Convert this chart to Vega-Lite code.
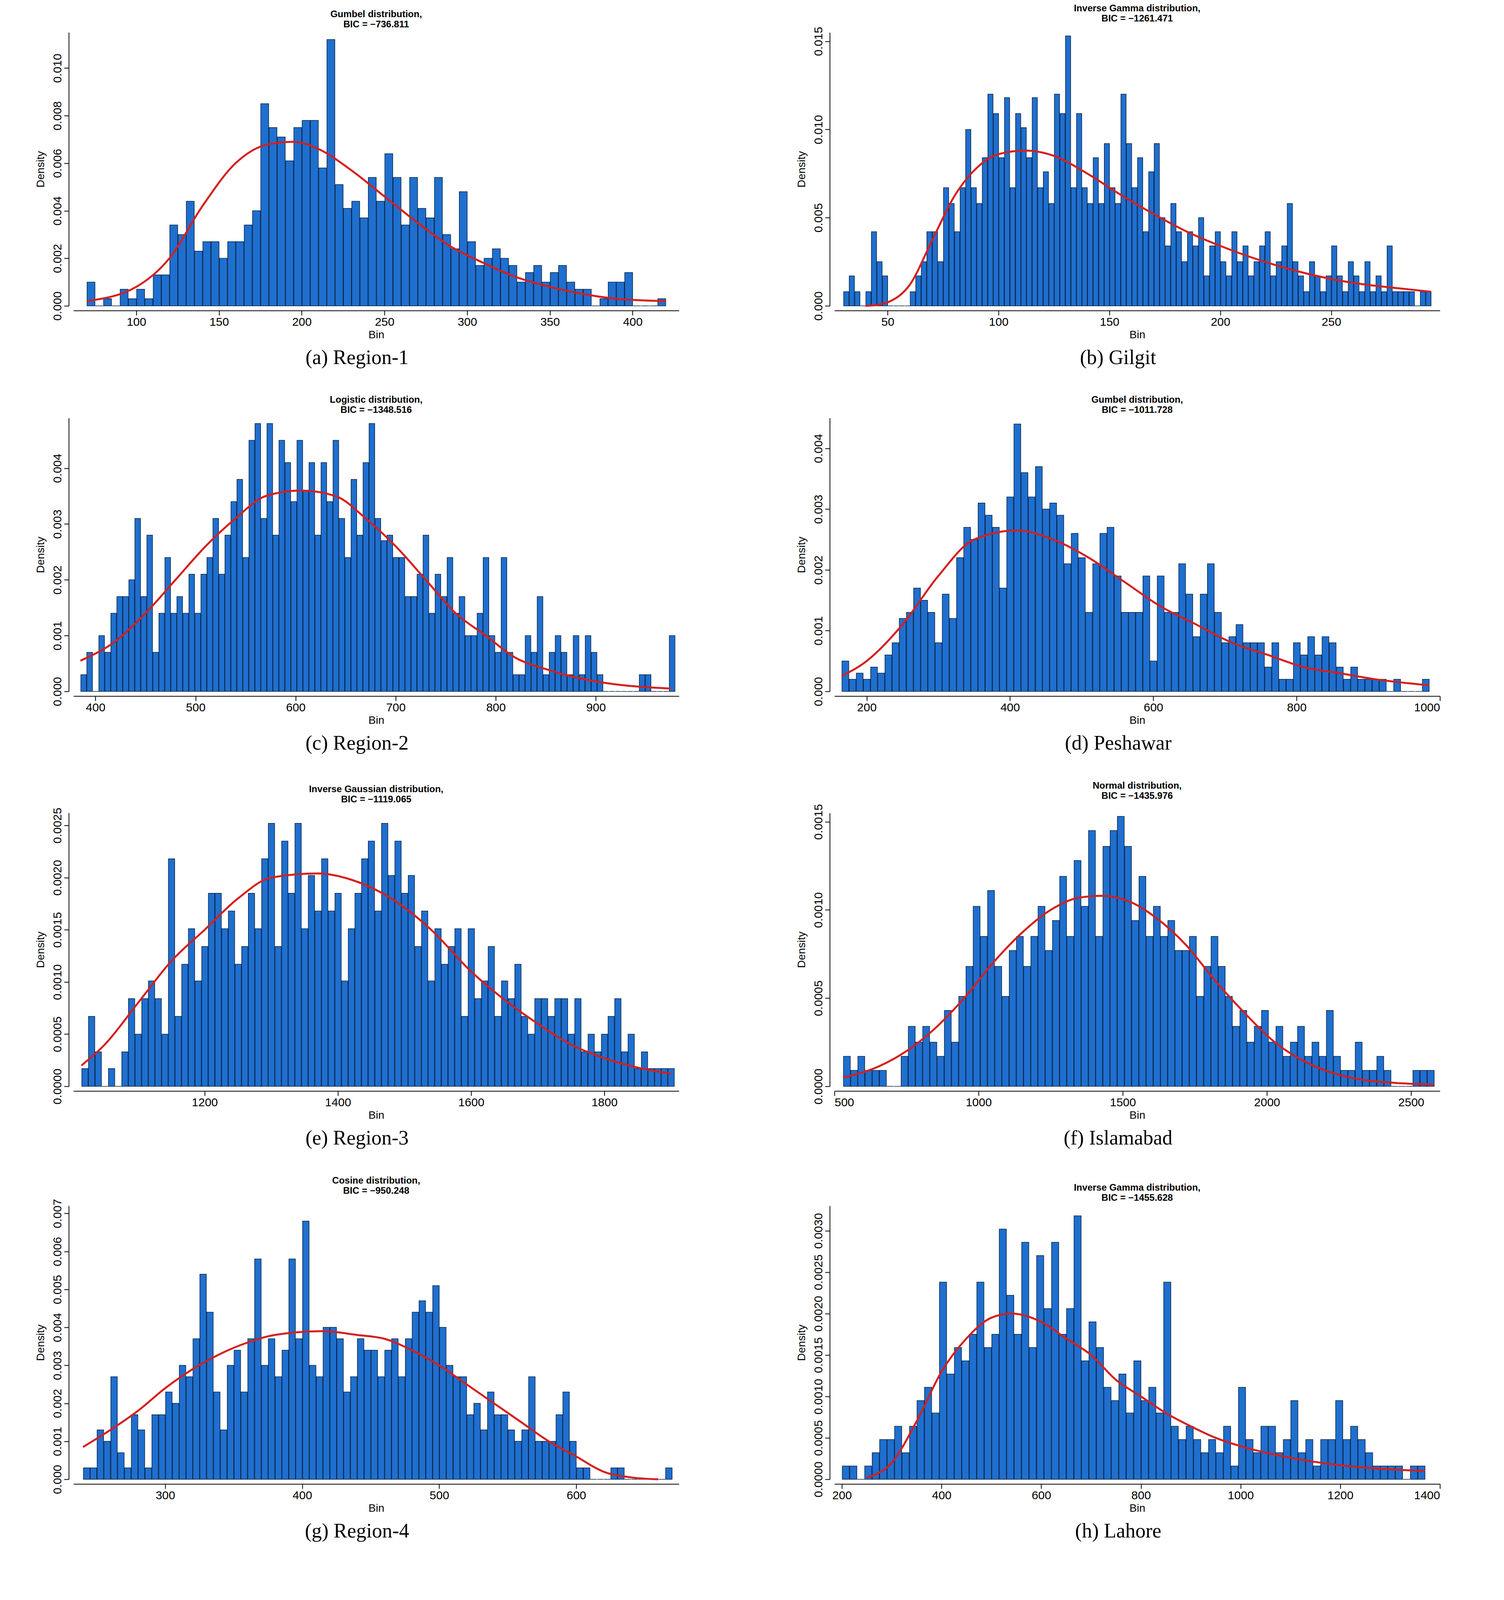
{
"$schema":"https://vega.github.io/schema/vega-lite/v6.json",
"background":"white",
"padding":{"left":90,"top":10,"right":20,"bottom":10},
"config":{
 "view":{"stroke":null},
 "axis":{"grid":false,"labelFont":"Liberation Sans","labelFontSize":30,"titleFont":"Liberation Sans","titleFontSize":28,"titleFontWeight":"normal","tickSize":12,"tickWidth":2,"domainWidth":2,"domainColor":"black","tickColor":"black","labelColor":"black","titleColor":"black","offset":12},
 "axisX":{"format":"d"},
 "axisY":{"labelAngle":-90,"labelAlign":"center","labelBaseline":"bottom","titlePadding":14},
 "title":{"font":"Liberation Sans","fontSize":24,"fontWeight":"bold","color":"black","offset":8,"anchor":"middle"},
 "line":{"color":"#d42020","strokeWidth":5,"interpolate":"monotone"}
},
"vconcat":[
{"hconcat":[
{"title":{"text":"(a) Region-1","orient":"bottom","anchor":"middle","font":"Liberation Serif","fontSize":52,"fontWeight":"normal","offset":20},
 "vconcat":[{"width":1550,"height":700,"title":{"text":["Gumbel distribution,","BIC = \u2212736.811"]},
 "layer":[
 {"data":{"values":[{"x":[70,75,80,85,90,95,100,105,110,115,120,125,130,135,140,145,150,155,160,165,170,175,180,185,190,195,200,205,210,215,220,225,230,235,240,245,250,255,260,265,270,275,280,285,290,295,300,305,310,315,320,325,330,335,340,345,350,355,360,365,370,375,380,385,390,395,400,405,410,415],
  "d":[0.001,0,0.0003,0,0.0007,0.0003,0.0007,0.0003,0.0013,0.0013,0.0034,0.003,0.0044,0.0023,0.0027,0.0027,0.002,0.0027,0.0027,0.0034,0.004,0.0085,0.0075,0.0071,0.0061,0.0075,0.0078,0.0078,0.0058,0.0112,0.0051,0.0041,0.0044,0.0037,0.0054,0.0044,0.0064,0.0054,0.0034,0.0054,0.0041,0.0037,0.0054,0.003,0.0024,0.0048,0.0027,0.0017,0.002,0.0024,0.002,0.0017,0.001,0.0014,0.0017,0.001,0.0014,0.0017,0.001,0.0007,0.0007,0,0.0003,0.001,0.001,0.0014,0,0,0,0.0003]}]},
  "transform":[{"flatten":["x","d"]}],"mark":{"type":"bar","fill":"#1f6fcf","stroke":"#0a2545","strokeWidth":1.5},
  "encoding":{"x":{"field":"x","type":"quantitative","bin":{"binned":true,"step":5},"scale":{"domain":[62,428],"nice":false},"axis":{"values":[100,150,200,250,300,350,400],"title":"Bin"}},
   "y":{"field":"d","type":"quantitative","scale":{"domain":[0,0.0115],"nice":false},"axis":{"values":[0,0.002,0.004,0.006,0.008,0.01],"format":".3f","title":"Density"}}}},
 {"data":{"values":[{"x":[70,100,120,140,160,180,195,210,230,250,270,290,310,330,350,370,390,420],"d":[0.0002,0.0008,0.002,0.0042,0.006,0.0068,0.0069,0.0066,0.0057,0.0046,0.0035,0.0025,0.0018,0.0012,0.0008,0.0005,0.0003,0.0002]}]},
  "transform":[{"flatten":["x","d"]}],"mark":"line",
  "encoding":{"x":{"field":"x","type":"quantitative","title":"Bin"},"y":{"field":"d","type":"quantitative","title":"Density"}}}
 ]}]},
{"title":{"text":"(b) Gilgit","orient":"bottom","anchor":"middle","font":"Liberation Serif","fontSize":52,"fontWeight":"normal","offset":20},
 "vconcat":[{"width":1550,"height":700,"title":{"text":["Inverse Gamma distribution,","BIC = \u22121261.471"]},
 "layer":[
 {"data":{"values":[{"x":[30,32.5,35,37.5,40,42.5,45,47.5,50,52.5,55,57.5,60,62.5,65,67.5,70,72.5,75,77.5,80,82.5,85,87.5,90,92.5,95,97.5,100,102.5,105,107.5,110,112.5,115,117.5,120,122.5,125,127.5,130,132.5,135,137.5,140,142.5,145,147.5,150,152.5,155,157.5,160,162.5,165,167.5,170,172.5,175,177.5,180,182.5,185,187.5,190,192.5,195,197.5,200,202.5,205,207.5,210,212.5,215,217.5,220,222.5,225,227.5,230,232.5,235,237.5,240,242.5,245,247.5,250,252.5,255,257.5,260,262.5,265,267.5,270,272.5,275,277.5,280,282.5,285,287.5,290,292.5],
  "d":[0.0008,0.0017,0.0008,0,0.0008,0.0042,0.0025,0.0017,0,0,0,0,0.0008,0.0017,0.0025,0.0042,0.0042,0.0025,0.0067,0.0058,0.0042,0.0067,0.01,0.0067,0.0058,0.0084,0.012,0.0109,0.0084,0.0118,0.0067,0.0109,0.0101,0.0084,0.0118,0.0067,0.0076,0.0058,0.012,0.0109,0.0153,0.0067,0.0109,0.0067,0.0058,0.0084,0.0058,0.0092,0.0067,0.0058,0.012,0.0092,0.0067,0.0084,0.0042,0.0076,0.0092,0.005,0.0034,0.0058,0.0042,0.0025,0.0042,0.0034,0.005,0.0017,0.0034,0.0042,0.0025,0.0017,0.0042,0.0025,0.0034,0.0017,0.0025,0.0034,0.0042,0.0017,0.0025,0.0034,0.0058,0.0025,0.0017,0.0008,0.0025,0.0017,0.0008,0.0017,0.0034,0.0017,0.0008,0.0025,0.0017,0.0008,0.0025,0.0008,0.0017,0.0008,0.0034,0.0008,0.0008,0.0008,0.0008,0,0.0008,0.0008]}]},
  "transform":[{"flatten":["x","d"]}],"mark":{"type":"bar","fill":"#1f6fcf","stroke":"#0a2545","strokeWidth":1.5},
  "encoding":{"x":{"field":"x","type":"quantitative","bin":{"binned":true,"step":2.5},"scale":{"domain":[26,299],"nice":false},"axis":{"values":[50,100,150,200,250,300],"title":"Bin"}},
   "y":{"field":"d","type":"quantitative","scale":{"domain":[0,0.0155],"nice":false},"axis":{"values":[0,0.005,0.01,0.015],"format":".3f","title":"Density"}}}},
 {"data":{"values":[{"x":[40,45,50,60,70,80,90,100,112,125,140,155,170,185,200,220,240,260,280,295],"d":[0,0.00005,0.0002,0.0012,0.0037,0.0062,0.0078,0.0086,0.0088,0.0085,0.0075,0.0063,0.0052,0.0042,0.0034,0.0025,0.0018,0.0013,0.001,0.0008]}]},
  "transform":[{"flatten":["x","d"]}],"mark":"line",
  "encoding":{"x":{"field":"x","type":"quantitative","title":"Bin"},"y":{"field":"d","type":"quantitative","title":"Density"}}}
 ]}]}
],"spacing":300},
{"hconcat":[
{"title":{"text":"(c) Region-2","orient":"bottom","anchor":"middle","font":"Liberation Serif","fontSize":52,"fontWeight":"normal","offset":20},
 "vconcat":[{"width":1550,"height":700,"title":{"text":["Logistic distribution,","BIC = \u22121348.516"]},
 "layer":[
 {"data":{"values":[{"x":[385,391,397,403,409,415,421,427,433,439,445,451,457,463,469,475,481,487,493,499,505,511,517,523,529,535,541,547,553,559,565,571,577,583,589,595,601,607,613,619,625,631,637,643,649,655,661,667,673,679,685,691,697,703,709,715,721,727,733,739,745,751,757,763,769,775,781,787,793,799,805,811,817,823,829,835,841,847,853,859,865,871,877,883,889,895,901,907,913,919,925,931,937,943,949,955,961,967,973],
  "d":[0.0003,0.0007,0,0.001,0.0007,0.0014,0.0017,0.0017,0.002,0.0031,0.0017,0.0028,0.0007,0.0014,0.0024,0.0014,0.0017,0.0014,0.0021,0.0014,0.0021,0.0024,0.0031,0.0021,0.0028,0.0034,0.0038,0.0024,0.0045,0.0048,0.0031,0.0048,0.0028,0.0045,0.0041,0.0034,0.0045,0.0036,0.0041,0.0028,0.0041,0.0034,0.0045,0.0031,0.0024,0.0038,0.0028,0.0041,0.0048,0.0031,0.0027,0.0028,0.0024,0.0024,0.0017,0.0017,0.0021,0.0028,0.0014,0.0021,0.0017,0.0024,0.0014,0.0017,0.001,0.001,0.0014,0.0024,0.001,0.0007,0.0024,0.0007,0.0003,0.0003,0.001,0.0007,0.0017,0.0003,0.0007,0.001,0.0007,0.0003,0.001,0.0003,0.001,0.0007,0.0003,0,0,0,0,0,0,0.0003,0.0003,0,0,0,0.001]}]},
  "transform":[{"flatten":["x","d"]}],"mark":{"type":"bar","fill":"#1f6fcf","stroke":"#0a2545","strokeWidth":1.5},
  "encoding":{"x":{"field":"x","type":"quantitative","bin":{"binned":true,"step":6},"scale":{"domain":[378,983],"nice":false},"axis":{"values":[400,500,600,700,800,900],"title":"Bin"}},
   "y":{"field":"d","type":"quantitative","scale":{"domain":[0,0.0049],"nice":false},"axis":{"values":[0,0.001,0.002,0.003,0.004],"format":".3f","title":"Density"}}}},
 {"data":{"values":[{"x":[385,420,450,480,510,540,570,605,640,670,700,730,760,790,820,850,880,910,975],"d":[0.00055,0.0009,0.0014,0.002,0.0026,0.0031,0.0035,0.0036,0.0035,0.0031,0.0026,0.002,0.0014,0.001,0.0006,0.0004,0.00025,0.00015,0.00005]}]},
  "transform":[{"flatten":["x","d"]}],"mark":"line",
  "encoding":{"x":{"field":"x","type":"quantitative","title":"Bin"},"y":{"field":"d","type":"quantitative","title":"Density"}}}
 ]}]},
{"title":{"text":"(d) Peshawar","orient":"bottom","anchor":"middle","font":"Liberation Serif","fontSize":52,"fontWeight":"normal","offset":20},
 "vconcat":[{"width":1550,"height":700,"title":{"text":["Gumbel distribution,","BIC = \u22121011.728"]},
 "layer":[
 {"data":{"values":[{"x":[165,175,185,195,205,215,225,235,245,255,265,275,285,295,305,315,325,335,345,355,365,375,385,395,405,415,425,435,445,455,465,475,485,495,505,515,525,535,545,555,565,575,585,595,605,615,625,635,645,655,665,675,685,695,705,715,725,735,745,755,765,775,785,795,805,815,825,835,845,855,865,875,885,895,905,915,925,935,945,955,965,975],
  "d":[0.0005,0.0002,0.0003,0.0002,0.0004,0.0003,0.0006,0.0008,0.0012,0.0013,0.0017,0.0015,0.0013,0.0008,0.0016,0.0012,0.0022,0.0027,0.0025,0.0031,0.0029,0.0027,0.0017,0.0032,0.0044,0.0036,0.0032,0.0037,0.003,0.0031,0.0029,0.0021,0.0026,0.0022,0.0013,0.0021,0.0026,0.0027,0.0019,0.0013,0.0013,0.0013,0.0019,0.0005,0.0019,0.0013,0.0013,0.0021,0.0016,0.0009,0.0016,0.0021,0.0013,0.0008,0.0009,0.0011,0.0008,0.0008,0.0008,0.0004,0.0008,0.0002,0.0002,0.0008,0.0006,0.0009,0.0006,0.0009,0.0008,0.0004,0.0002,0.0004,0.0002,0.0002,0.0002,0.0002,0,0.0002,0,0,0,0.0002]}]},
  "transform":[{"flatten":["x","d"]}],"mark":{"type":"bar","fill":"#1f6fcf","stroke":"#0a2545","strokeWidth":1.5},
  "encoding":{"x":{"field":"x","type":"quantitative","bin":{"binned":true,"step":10},"scale":{"domain":[155,1000],"nice":false},"axis":{"values":[200,400,600,800,1000],"title":"Bin"}},
   "y":{"field":"d","type":"quantitative","scale":{"domain":[0,0.0045],"nice":false},"axis":{"values":[0,0.001,0.002,0.003,0.004],"format":".3f","title":"Density"}}}},
 {"data":{"values":[{"x":[165,200,250,300,350,410,460,510,560,610,660,710,760,810,860,910,985],"d":[0.00025,0.0005,0.0011,0.0019,0.0025,0.00265,0.0025,0.0022,0.0018,0.0014,0.0011,0.0008,0.0006,0.0004,0.0003,0.0002,0.0001]}]},
  "transform":[{"flatten":["x","d"]}],"mark":"line",
  "encoding":{"x":{"field":"x","type":"quantitative","title":"Bin"},"y":{"field":"d","type":"quantitative","title":"Density"}}}
 ]}]}
],"spacing":300},
{"hconcat":[
{"title":{"text":"(e) Region-3","orient":"bottom","anchor":"middle","font":"Liberation Serif","fontSize":52,"fontWeight":"normal","offset":20},
 "vconcat":[{"width":1550,"height":700,"title":{"text":["Inverse Gaussian distribution,","BIC = \u22121119.065"]},
 "layer":[
 {"data":{"values":[{"x":[1015,1025,1035,1045,1055,1065,1075,1085,1095,1105,1115,1125,1135,1145,1155,1165,1175,1185,1195,1205,1215,1225,1235,1245,1255,1265,1275,1285,1295,1305,1315,1325,1335,1345,1355,1365,1375,1385,1395,1405,1415,1425,1435,1445,1455,1465,1475,1485,1495,1505,1515,1525,1535,1545,1555,1565,1575,1585,1595,1605,1615,1625,1635,1645,1655,1665,1675,1685,1695,1705,1715,1725,1735,1745,1755,1765,1775,1785,1795,1805,1815,1825,1835,1845,1855,1865,1875,1885,1895],
  "d":[0.00017,0.00067,0.00033,0,0.00017,0,0.00033,0.00084,0.0005,0.00084,0.00101,0.00084,0.0005,0.00218,0.00067,0.00117,0.00151,0.00101,0.00134,0.00185,0.00185,0.00151,0.00168,0.00117,0.00134,0.00185,0.00151,0.00218,0.00252,0.00134,0.00235,0.00185,0.00252,0.00151,0.00202,0.00168,0.00218,0.00168,0.00185,0.00101,0.00151,0.00185,0.00218,0.00235,0.00168,0.00252,0.00202,0.00235,0.00185,0.00202,0.00134,0.00168,0.00101,0.00151,0.00117,0.00134,0.00151,0.00067,0.00151,0.00084,0.00101,0.00134,0.00067,0.00101,0.00084,0.00117,0.00067,0.0005,0.00084,0.00084,0.00067,0.00084,0.00084,0.0005,0.00084,0.00033,0.0005,0.00033,0.0005,0.00067,0.00084,0.00033,0.0005,0.00017,0.00033,0.00017,0.00017,0.00017,0.00017]}]},
  "transform":[{"flatten":["x","d"]}],"mark":{"type":"bar","fill":"#1f6fcf","stroke":"#0a2545","strokeWidth":1.5},
  "encoding":{"x":{"field":"x","type":"quantitative","bin":{"binned":true,"step":10},"scale":{"domain":[1003,1912],"nice":false},"axis":{"values":[1000,1200,1400,1600,1800],"title":"Bin"}},
   "y":{"field":"d","type":"quantitative","scale":{"domain":[0,0.00262],"nice":false},"axis":{"values":[0,0.0005,0.001,0.0015,0.002,0.0025],"format":".4f","title":"Density"}}}},
 {"data":{"values":[{"x":[1015,1050,1100,1150,1200,1250,1300,1370,1420,1480,1540,1600,1650,1700,1750,1800,1850,1900],"d":[0.0002,0.0004,0.0008,0.0012,0.0015,0.0018,0.002,0.00204,0.00198,0.0018,0.0015,0.0011,0.00083,0.0006,0.0004,0.00027,0.00018,0.00012]}]},
  "transform":[{"flatten":["x","d"]}],"mark":"line",
  "encoding":{"x":{"field":"x","type":"quantitative","title":"Bin"},"y":{"field":"d","type":"quantitative","title":"Density"}}}
 ]}]},
{"title":{"text":"(f) Islamabad","orient":"bottom","anchor":"middle","font":"Liberation Serif","fontSize":52,"fontWeight":"normal","offset":20},
 "vconcat":[{"width":1550,"height":700,"title":{"text":["Normal distribution,","BIC = \u22121435.976"]},
 "layer":[
 {"data":{"values":[{"x":[530,555,580,605,630,655,680,705,730,755,780,805,830,855,880,905,930,955,980,1005,1030,1055,1080,1105,1130,1155,1180,1205,1230,1255,1280,1305,1330,1355,1380,1405,1430,1455,1480,1505,1530,1555,1580,1605,1630,1655,1680,1705,1730,1755,1780,1805,1830,1855,1880,1905,1930,1955,1980,2005,2030,2055,2080,2105,2130,2155,2180,2205,2230,2255,2280,2305,2330,2355,2380,2405,2430,2455,2480,2505,2530,2555],
  "d":[0.00017,0.00009,0.00017,0.00009,0.00009,0.00009,0,0,0.00017,0.00034,0.00025,0.00034,0.00025,0.00017,0.00043,0.00025,0.00051,0.00068,0.00102,0.00085,0.00111,0.00068,0.00051,0.00077,0.00085,0.00068,0.00085,0.00102,0.00077,0.00094,0.00119,0.00085,0.00128,0.00102,0.00145,0.00085,0.00136,0.00145,0.00153,0.00136,0.00094,0.00119,0.00085,0.00102,0.00085,0.00094,0.00077,0.00077,0.00085,0.00051,0.00068,0.00085,0.00068,0.00051,0.00034,0.00043,0.00025,0.00034,0.00043,0.00025,0.00034,0.00017,0.00025,0.00034,0.00017,0.00025,0.00017,0.00043,0.00017,0.00009,0.00009,0.00025,0.00009,0.00009,0.00017,0.00009,0,0,0,0.00009,0.00009,0.00009]}]},
  "transform":[{"flatten":["x","d"]}],"mark":{"type":"bar","fill":"#1f6fcf","stroke":"#0a2545","strokeWidth":1.5},
  "encoding":{"x":{"field":"x","type":"quantitative","bin":{"binned":true,"step":25},"scale":{"domain":[500,2600],"nice":false},"axis":{"values":[500,1000,1500,2000,2500],"title":"Bin"}},
   "y":{"field":"d","type":"quantitative","scale":{"domain":[0,0.00155],"nice":false},"axis":{"values":[0,0.0005,0.001,0.0015],"format":".4f","title":"Density"}}}},
 {"data":{"values":[{"x":[530,650,750,850,950,1050,1150,1250,1350,1430,1520,1620,1720,1820,1920,2020,2120,2220,2320,2440,2580],"d":[0.00005,0.00011,0.0002,0.00033,0.0005,0.0007,0.00087,0.001,0.00107,0.00108,0.00105,0.00095,0.0008,0.0006,0.00042,0.00026,0.00015,0.00008,0.00004,0.00002,0.00001]}]},
  "transform":[{"flatten":["x","d"]}],"mark":"line",
  "encoding":{"x":{"field":"x","type":"quantitative","title":"Bin"},"y":{"field":"d","type":"quantitative","title":"Density"}}}
 ]}]}
],"spacing":300},
{"hconcat":[
{"title":{"text":"(g) Region-4","orient":"bottom","anchor":"middle","font":"Liberation Serif","fontSize":52,"fontWeight":"normal","offset":20},
 "vconcat":[{"width":1550,"height":700,"title":{"text":["Cosine distribution,","BIC = \u2212950.248"]},
 "layer":[
 {"data":{"values":[{"x":[240,245,250,255,260,265,270,275,280,285,290,295,300,305,310,315,320,325,330,335,340,345,350,355,360,365,370,375,380,385,390,395,400,405,410,415,420,425,430,435,440,445,450,455,460,465,470,475,480,485,490,495,500,505,510,515,520,525,530,535,540,545,550,555,560,565,570,575,580,585,590,595,600,605,610,615,620,625,630,635,640,645,650,655,660,665],
  "d":[0.0003,0.0003,0.0013,0.001,0.0027,0.0007,0.0003,0.0017,0.0013,0.0003,0.0017,0.0017,0.0023,0.002,0.003,0.0027,0.0037,0.0054,0.0044,0.0023,0.0013,0.003,0.0034,0.0023,0.0037,0.0058,0.003,0.0037,0.0027,0.0034,0.0058,0.0037,0.0068,0.003,0.0027,0.004,0.004,0.0037,0.0023,0.0027,0.0037,0.0034,0.0034,0.0027,0.0034,0.0037,0.0027,0.0037,0.0044,0.0047,0.0044,0.0051,0.004,0.003,0.0027,0.0027,0.0017,0.002,0.0013,0.0023,0.0017,0.0017,0.0013,0.001,0.0013,0.0027,0.001,0.001,0.001,0.0017,0.0023,0.001,0.0003,0.0003,0,0,0,0.0003,0.0003,0,0,0,0,0,0,0.0003]}]},
  "transform":[{"flatten":["x","d"]}],"mark":{"type":"bar","fill":"#1f6fcf","stroke":"#0a2545","strokeWidth":1.5},
  "encoding":{"x":{"field":"x","type":"quantitative","bin":{"binned":true,"step":5},"scale":{"domain":[233,675],"nice":false},"axis":{"values":[300,400,500,600],"title":"Bin"}},
   "y":{"field":"d","type":"quantitative","scale":{"domain":[0,0.0072],"nice":false},"axis":{"values":[0,0.001,0.002,0.003,0.004,0.005,0.006,0.007],"format":".3f","title":"Density"}}}},
 {"data":{"values":[{"x":[240,260,280,300,320,340,360,380,415,440,460,480,500,520,540,560,580,600,620,640,660],"d":[0.00085,0.0013,0.0018,0.0024,0.0029,0.0033,0.0036,0.0038,0.0039,0.0038,0.0037,0.0034,0.003,0.0025,0.002,0.0015,0.001,0.0006,0.0002,0.00005,0]}]},
  "transform":[{"flatten":["x","d"]}],"mark":"line",
  "encoding":{"x":{"field":"x","type":"quantitative","title":"Bin"},"y":{"field":"d","type":"quantitative","title":"Density"}}}
 ]}]},
{"title":{"text":"(h) Lahore","orient":"bottom","anchor":"middle","font":"Liberation Serif","fontSize":52,"fontWeight":"normal","offset":20},
 "vconcat":[{"width":1550,"height":700,"title":{"text":["Inverse Gamma distribution,","BIC = \u22121455.628"]},
 "layer":[
 {"data":{"values":[{"x":[200,215,230,245,260,275,290,305,320,335,350,365,380,395,410,425,440,455,470,485,500,515,530,545,560,575,590,605,620,635,650,665,680,695,710,725,740,755,770,785,800,815,830,845,860,875,890,905,920,935,950,965,980,995,1010,1025,1040,1055,1070,1085,1100,1115,1130,1145,1160,1175,1190,1205,1220,1235,1250,1265,1280,1295,1310,1325,1340,1355],
  "d":[0.00016,0.00016,0,0.00016,0.00032,0.00048,0.00048,0.00064,0.00032,0.00064,0.00095,0.00111,0.0008,0.00238,0.00127,0.00159,0.00143,0.00175,0.00238,0.00159,0.00175,0.00302,0.00222,0.00175,0.00286,0.00159,0.0027,0.00206,0.00286,0.00175,0.00206,0.00318,0.00143,0.0019,0.00159,0.00111,0.00095,0.00127,0.0008,0.00143,0.00095,0.00111,0.0008,0.00238,0.00064,0.00048,0.00064,0.00048,0.00032,0.00048,0.00032,0.00064,0.00016,0.00111,0.00048,0.00032,0.00064,0.00064,0.00032,0.00048,0.00095,0.00032,0.00048,0.00016,0.00048,0.00048,0.00095,0.00048,0.00064,0.00048,0.00032,0.00016,0.00016,0.00016,0.00016,0,0.00016,0.00016]}]},
  "transform":[{"flatten":["x","d"]}],"mark":{"type":"bar","fill":"#1f6fcf","stroke":"#0a2545","strokeWidth":1.5},
  "encoding":{"x":{"field":"x","type":"quantitative","bin":{"binned":true,"step":15},"scale":{"domain":[185,1400],"nice":false},"axis":{"values":[200,400,600,800,1000,1200,1400],"title":"Bin"}},
   "y":{"field":"d","type":"quantitative","scale":{"domain":[0,0.0033],"nice":false},"axis":{"values":[0,0.0005,0.001,0.0015,0.002,0.0025,0.003],"format":".4f","title":"Density"}}}},
 {"data":{"values":[{"x":[250,300,350,400,450,500,540,600,650,700,750,800,850,900,950,1000,1100,1200,1300,1370],"d":[0.00002,0.0002,0.0007,0.0013,0.0017,0.00195,0.002,0.0019,0.0017,0.0015,0.0012,0.001,0.0008,0.00064,0.0005,0.0004,0.00026,0.00017,0.00012,0.0001]}]},
  "transform":[{"flatten":["x","d"]}],"mark":"line",
  "encoding":{"x":{"field":"x","type":"quantitative","title":"Bin"},"y":{"field":"d","type":"quantitative","title":"Density"}}}
 ]}]}
],"spacing":300}
],
"spacing":70
}
